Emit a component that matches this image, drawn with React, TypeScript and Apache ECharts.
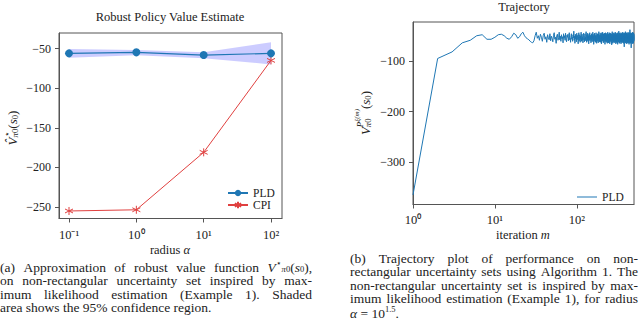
import React, { useEffect, useRef } from 'react';
import * as echarts from 'echarts';

// ---------- data ----------
const alphaValues = [0.1, 1, 10, 100];
const pldValues = [-56.1, -54.8, -58.2, -56.1];
const pldLower = [-61.5, -58.6, -62.4, -70];
const pldUpper = [-50.7, -51.9, -54.8, -42.2];
const cpiValues = [-255, -253.5, -181, -65];
const leftXTicks = [0.1, 1, 10, 100];
const leftYTicks = [-250, -200, -150, -100, -50];
const rightXTicks = [1, 10, 100];
const rightYTicks = [-300, -200, -100];
// PLD trajectory, value at iteration m = index + 1
const trajectory = [
  -365, -95, -82, -64, -59, -50, -48, -57, -57, -53, -48, -47, -50, -55, -57, -52, -45, -48, -55, -52,
  -46, -43, -50, -54, -56, -58, -61, -63, -64, -60, -50, -43,
  -55, -50, -59, -47, -53, -61, -49, -45, -57, -52, -63, -48, -54, -58, -46, -60, -51, -55,
  -62, -49, -44, -57, -53, -65, -50, -47, -59, -54, -43, -58, -51, -61, -48, -56, -52, -64, -46, -55,
  -50, -59, -45, -57, -62, -49, -53, -47, -60, -52, -44, -58, -55, -63, -50, -46, -57, -53, -61, -48,
  -54, -41, -59, -51, -65, -47, -56, -50, -62, -45, -58, -53, -49, -66, -52, -44, -60, -55, -48, -63,
  -51, -57, -43, -61, -54, -47, -59, -52, -64, -49, -45, -58, -55, -62, -50, -46, -60, -53, -57, -42,
  -56, -63, -48, -52, -59, -45, -61, -54, -50, -66, -47, -58, -53, -44, -60, -51, -57, -49, -64, -55,
  -46, -59, -52, -62, -48, -56, -43, -60, -54, -50, -67, -47, -58, -53, -45, -61, -55, -49, -63, -51,
  -57, -44, -59, -52, -65, -48, -55, -61, -46, -53, -58, -50, -64, -47, -56, -42, -60, -54, -49, -62,
  -51, -57, -45, -63, -53, -48, -59, -55, -44, -66, -50, -58, -47, -61, -52, -56, -43, -60, -54, -49,
  -64, -46, -57, -51, -62, -48, -55, -45, -59, -53, -67, -50, -56, -44, -61, -52, -58, -47, -63, -54,
  -49, -60, -45, -57, -52, -65, -48, -55, -43, -61, -53, -58, -46, -64, -51, -56, -47, -62, -54, -50,
  -59, -44, -66, -52, -57, -48, -61, -53, -45, -60, -55, -49, -63, -47, -58, -51, -68, -46, -56, -53,
  -42, -60, -54, -49, -65, -50, -57, -45, -62, -52, -58, -47, -61, -55, -44, -64, -51, -57, -48, -60,
  -53, -46, -63, -50, -58, -43, -61, -54, -49, -66, -52, -56, -45, -62, -55, -48, -59, -51, -64, -47,
  -57, -53, -44, -61, -50, -67, -55, -48, -60, -46, -58, -52, -63, -49, -56, -41, -62, -54, -50, -59,
  -45, -65, -53, -57, -48, -61, -51, -55, -44, -63, -50, -58, -47, -60, -54, -49, -66, -52, -56, -46,
  -62, -51, -59, -45, -57, -53, -64, -48, -55, -43, -61, -52, -58, -47, -63, -50, -56, -44, -60, -54,
  -49, -65, -51, -57, -46, -62, -53, -59, -44, -72, -52, -56, -48, -61, -55, -45, -63, -50, -58, -47,
  -60, -54, -42, -64, -51, -57, -49, -62, -46, -55, -59, -52, -66, -48, -56, -44, -61, -53, -58, -50,
  -45, -63, -55, -49, -60, -47, -57, -52, -65, -46, -54, -61, -43, -58, -51, -64, -49, -56, -48, -62,
  -53, -45, -60, -55, -67, -50, -57, -44, -62, -52, -58, -47, -64, -51, -55, -38, -61, -54, -49, -63,
  -46, -59, -52, -65, -48, -56, -44, -62, -53, -58, -50, -74, -47, -57, -51, -61, -45, -55, -60, -49,
  -63, -52, -46, -58, -54, -66, -48, -57, -43, -61, -53, -59, -47, -64, -50, -56, -45, -62, -55, -51,
  -58, -44, -65, -52, -57, -49, -61, -46, -54, -59,
];

// caption texts (plain lines are justified word by word)
const leftCaptionFirstWords = ['(a)', 'Approximation', 'of', 'robust', 'value', 'function'];
const leftCaptionFirstMath = '{i|V}{sup|\u22c6}{subi|\u03c0}{sub|0}{n|(}{i|s}{sub|0}{n|),}';
const leftCaptionJustified = [
  'on non-rectangular uncertainty set inspired by max-',
  'imum likelihood estimation (Example 1). Shaded',
];
const leftCaptionLast = 'area shows the 95% confidence region.';
const rightCaptionJustified = [
  '(b) Trajectory plot of performance on non-',
  'rectangular uncertainty sets using Algorithm 1. The',
  'non-rectangular uncertainty set is inspired by max-',
  'imum likelihood estimation (Example 1), for radius',
];
const rightCaptionLast = '{i|\u03b1}{n| = 10}{sup|1.5}{n|.}';
const leftYName = '{i|V\u0302}{save|}{sup|\u22c6}{restore|}{subi|\u03c0}{sub|0}{max|}{n|(}{i|s}{sub|0}{n|)}';
const rightYName = '{i|V}{save|}{subi|\u03c0}{sub|0}{restore|}{supi|P}{sup2|\u03be(m)}{max|}{n|(}{i|s}{sub|0}{n|)}';
const leftXName = '{n|radius }{i|\u03b1}';
const rightXName = '{n|iteration }{i|m}';

// ---------- styling ----------
const FAMILY = '"Liberation Serif"';
const TXT = '#222';
const AX = '#555';
const BLUE = '#1f77b4';
const RED = '#e0403f';
const CAP = 13.5;

const fontStr = (size: number, italic = false) => `${italic ? 'italic ' : ''}${size}px ${FAMILY}`;

const SUP: Record<string, string> = { '-': '\u207b', '0': '\u2070', '1': '\u00b9', '2': '\u00b2', '3': '\u00b3' };
const fmtNum = (v: number) => `${v < 0 ? '\u2212' : ''}${Math.abs(v)}`;
const fmtPow = (v: number) => {
  const e = String(Math.round(Math.log10(v)));
  return '10' + e.split('').map((c) => SUP[c] || c).join('');
};

const asterisk = 'path://M0,-10L0,10M-8.66,-5L8.66,5M-8.66,5L8.66,-5';

type Measure = (t: string, f: string) => number;
function measurer(): Measure {
  const ctx = document.createElement('canvas').getContext('2d') as CanvasRenderingContext2D;
  return (t: string, f: string) => {
    ctx.font = f;
    return ctx.measureText(t).width;
  };
}

type Kind = { size: number; italic: boolean; dy: number };
function kinds(base: number, tight: boolean): Record<string, Kind> {
  const sm = Math.round(base * (tight ? 0.63 : 0.68) * 10) / 10;
  const sm2 = Math.round(sm * 0.8 * 10) / 10;
  const up = tight ? -0.26 : -0.36;
  const down = tight ? 0.18 : 0.26;
  return {
    n: { size: base, italic: false, dy: 0 },
    i: { size: base, italic: true, dy: 0 },
    sup: { size: sm, italic: false, dy: up * base },
    supi: { size: sm, italic: true, dy: up * base },
    sup2: { size: sm2, italic: true, dy: -0.62 * base },
    sub: { size: sm, italic: false, dy: down * base },
    subi: { size: sm, italic: true, dy: down * base },
  };
}

// lays out a small formula as separate plain texts inside a group
function mathText(markup: string, base: number, x: number, y: number, align: string, rotation: number, m: Measure, tight = false) {
  const ks = kinds(base, tight);
  const toks: { t: string; k: string }[] = [];
  const re = /\{(\w+)\|([^}]*)\}/g;
  let r: RegExpExecArray | null;
  while ((r = re.exec(markup))) toks.push({ k: r[1], t: r[2] });
  let cx = 0;
  let saved = 0;
  let far = 0;
  const placed: { t: string; kd: Kind; x: number }[] = [];
  toks.forEach((tk) => {
    if (tk.k === 'save') { saved = cx; far = cx; return; }
    if (tk.k === 'restore') { far = Math.max(far, cx); cx = saved; return; }
    if (tk.k === 'max') { cx = Math.max(far, cx); return; }
    const kd = ks[tk.k];
    const f = fontStr(kd.size, kd.italic);
    const trimmed = tk.t.replace(/^\s+/, '');
    const lead = tk.t.length - trimmed.length;
    const off = lead ? m(' '.repeat(lead), f) : 0;
    placed.push({ t: trimmed, kd, x: cx + off });
    cx += m(tk.t, f);
  });
  const total = cx;
  const shift = align === 'center' ? -total / 2 : align === 'right' ? -total : 0;
  const children = placed.map((p) => ({
    type: 'text', x: p.x + shift, y: p.kd.dy,
    style: { text: p.t, font: fontStr(p.kd.size, p.kd.italic), fill: TXT, align: 'left', verticalAlign: 'middle' },
  }));
  return { el: { type: 'group', x, y, rotation, children }, width: total };
}

function placeWords(words: string[], x0: number, width: number, y: number, size: number, m: Measure): any[] {
  const font = fontStr(size);
  const ws = words.map((w) => m(w, font));
  const total = ws.reduce((a, b) => a + b, 0);
  const gap = words.length > 1 ? (width - total) / (words.length - 1) : 0;
  let x = x0;
  return words.map((w, i) => {
    const el = { type: 'text', x, y, style: { text: w, font, fill: TXT, align: 'left', verticalAlign: 'middle' } };
    x += ws[i] + gap;
    return el;
  });
}

export default function App() {
  const ref = useRef<HTMLDivElement>(null);
  useEffect(() => {
    document.body.style.margin = '0';
    if (!ref.current) return;
    const chart = echarts.init(ref.current, undefined, { renderer: 'svg' });
    const m = measurer();

    const axisCommon = {
      axisLine: { show: true, lineStyle: { color: AX, width: 1 } },
      splitLine: { show: false },
    };
    const titleFont = fontStr(12.5);
    const capLeftW = 312;

    const math1 = mathText(leftCaptionFirstMath, CAP, capLeftW, 267, 'right', 0, m, true);
    const firstWs = leftCaptionFirstWords.map((w) => m(w, fontStr(CAP)));
    const spaceW = (capLeftW - math1.width - firstWs.reduce((a, b) => a + b, 0)) / leftCaptionFirstWords.length;

    let graphics: any[] = [
      { type: 'text', x: 170, y: 17, style: { text: 'Robust Policy Value Estimate', font: titleFont, fill: TXT, align: 'center', verticalAlign: 'middle' } },
      { type: 'text', x: 524, y: 7, style: { text: 'Trajectory', font: titleFont, fill: TXT, align: 'center', verticalAlign: 'middle' } },
      mathText(leftXName, 12.5, 170, 250, 'center', 0, m).el,
      mathText(rightXName, 12.5, 523, 235, 'center', 0, m).el,
      mathText(leftYName, 13, 12, 128, 'center', Math.PI / 2, m).el,
      mathText(rightYName, 13, 365, 113, 'center', Math.PI / 2, m).el,
      math1.el,
      { type: 'text', x: 0, y: 307.5, style: { text: leftCaptionLast, font: fontStr(CAP), fill: TXT, align: 'left', verticalAlign: 'middle' } },
      mathText(rightCaptionLast, CAP, 350, 313, 'left', 0, m, true).el,
    ];
    graphics = graphics.concat(placeWords(leftCaptionFirstWords, 0, capLeftW - math1.width - spaceW, 267, CAP, m));
    leftCaptionJustified.forEach((t, k) => {
      graphics = graphics.concat(placeWords(t.split(' '), 0, capLeftW, 280.5 + k * 13.5, CAP, m));
    });
    rightCaptionJustified.forEach((t, k) => {
      graphics = graphics.concat(placeWords(t.split(' '), 350, 288, 258 + k * 13.5, CAP, m));
    });

    const yLabel = { fontFamily: 'Liberation Serif', fontSize: 12, color: TXT, margin: 8, formatter: fmtNum };
    const xLabel = { fontFamily: 'Liberation Serif', fontSize: 12.5, color: TXT, formatter: fmtPow };

    chart.setOption({
      animation: false,
      backgroundColor: '#fff',
      grid: [
        { left: 59, top: 33, width: 223, height: 185.5, show: true, borderColor: AX, borderWidth: 1, containLabel: false },
        { left: 413, top: 22, width: 221, height: 182.5, show: true, borderColor: AX, borderWidth: 1, containLabel: false },
      ],
      xAxis: [
        {
          type: 'log', logBase: 10, gridIndex: 0, min: 0.071, max: 145.6, ...axisCommon,
          axisTick: { show: true, customValues: leftXTicks, length: 4, lineStyle: { color: AX } },
          axisLabel: { ...xLabel, customValues: leftXTicks, margin: 10 },
          minorTick: { show: false },
        },
        {
          type: 'log', logBase: 10, gridIndex: 1, min: 1, max: 500, ...axisCommon,
          axisTick: { show: true, customValues: rightXTicks, length: 4, lineStyle: { color: AX } },
          axisLabel: { ...xLabel, customValues: rightXTicks, margin: 9 },
          minorTick: { show: false },
        },
      ],
      yAxis: [
        {
          type: 'value', gridIndex: 0, min: -264.5, max: -30.4, ...axisCommon,
          axisTick: { show: true, customValues: leftYTicks, length: 4, lineStyle: { color: AX } },
          axisLabel: { ...yLabel, customValues: leftYTicks },
        },
        {
          type: 'value', gridIndex: 1, min: -384, max: -22.8, ...axisCommon,
          axisTick: { show: true, customValues: rightYTicks, length: 4, lineStyle: { color: AX } },
          axisLabel: { ...yLabel, customValues: rightYTicks },
        },
      ],
      legend: [
        {
          data: ['PLD', 'CPI'], orient: 'vertical', left: 222, top: 182, itemWidth: 20, itemHeight: 8, itemGap: 0,
          textStyle: { fontFamily: 'Liberation Serif', fontSize: 11.5, color: TXT, lineHeight: 11 }, selectedMode: false,
        },
        {
          data: [{ name: 'PLD-traj', icon: 'path://M0,0L20,0L20,1L0,1Z' }], orient: 'vertical', left: 572, top: 186,
          itemWidth: 20, itemHeight: 1.1,
          formatter: () => 'PLD',
          textStyle: { fontFamily: 'Liberation Serif', fontSize: 11.5, color: TXT, lineHeight: 11 }, selectedMode: false,
        },
      ],
      graphic: graphics,
      series: [
        {
          name: 'ci', type: 'custom', xAxisIndex: 0, yAxisIndex: 0, silent: true, z: 1,
          data: alphaValues.map((a, i) => [a, pldLower[i], pldUpper[i]]),
          encode: { x: 0, y: [1, 2] },
          renderItem: (params: any, api: any) => {
            if (params.dataIndex !== 0) return { type: 'group', children: [] };
            const pts: number[][] = [];
            alphaValues.forEach((a, i) => pts.push(api.coord([a, pldUpper[i]])));
            for (let i = alphaValues.length - 1; i >= 0; i--) pts.push(api.coord([alphaValues[i], pldLower[i]]));
            return { type: 'polygon', shape: { points: pts }, style: { fill: 'rgba(0,0,255,0.2)' } };
          },
        },
        {
          name: 'PLD', type: 'line', xAxisIndex: 0, yAxisIndex: 0, data: alphaValues.map((a, i) => [a, pldValues[i]]),
          symbol: 'circle', symbolSize: 8, itemStyle: { color: BLUE }, lineStyle: { color: BLUE, width: 1.2 }, z: 4,
        },
        {
          name: 'CPI', type: 'line', xAxisIndex: 0, yAxisIndex: 0, data: alphaValues.map((a, i) => [a, cpiValues[i]]),
          symbol: asterisk, symbolSize: 8, itemStyle: { color: RED, borderColor: RED, borderWidth: 1 },
          lineStyle: { color: RED, width: 1 }, z: 3,
        },
        {
          name: 'PLD-traj', type: 'line', xAxisIndex: 1, yAxisIndex: 1, data: trajectory.map((v, i) => [i + 1, v]),
          symbol: 'none', lineStyle: { color: BLUE, width: 1 }, itemStyle: { color: BLUE }, z: 3,
        },
      ],
    });
    return () => chart.dispose();
  }, []);
  return <div ref={ref} style={{ width: 640, height: 324 }} />;
}
